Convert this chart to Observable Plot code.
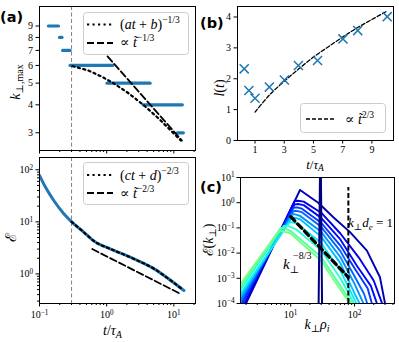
<!DOCTYPE html>
<html><head><meta charset="utf-8">
<script src="https://cdn.jsdelivr.net/npm/d3@7"></script>
<script src="https://cdn.jsdelivr.net/npm/@observablehq/plot@0.6"></script>
<style>
body{margin:0;background:#fff;}
#wrap{position:relative;width:399px;height:342px;overflow:hidden;background:#fff;}
</style></head><body><div id="wrap"></div>
<script>
// ---------- Panel (a) top: k_perp,max plateaus ----------
const kLevels = [9, 8, 7, 6, 5, 4, 3];
const kStart  = [0.138, 0.202, 0.225, 0.29, 1.03, 3.57, 11.5];
const kEnd    = [0.195, 0.22, 0.29, 1.25, 4.5, 13.6, 14.1];
const fitA_t  = [0.31, 0.53, 0.86, 1.27, 2.13, 3.57, 5.97, 9.0, 12.7];
const fitA_k  = [5.95, 5.7, 5.33, 4.99, 4.50, 3.98, 3.47, 3.07, 2.77];
const powA_t  = [1.03, 13.2];
const powA_k  = [6.58, 2.77];
const tMark = 0.3;
const kTicks = [3, 4, 5, 6, 7, 8, 9];
// ---------- Panel (a) bottom: energy ----------
const eT = [0.1, 0.123, 0.163, 0.23, 0.307, 0.458, 0.685, 1.15, 2.55, 5.1, 14.1];
const eE = [78, 46, 25.7, 14.3, 9.8, 6.3, 4.05, 3.0, 1.94, 1.25, 0.48];
const fitE_t = [0.3, 0.458, 0.685, 1.15, 2.55, 5.1, 13.5];
const fitE_E = [10.0, 6.3, 4.05, 3.0, 1.94, 1.25, 0.5];
const powE_t = [0.61, 12.7];
const powE_E = [3.0, 0.41];
// ---------- Panel (b): l(t) ----------
const lT = [0.26, 0.58, 1.0, 1.98, 3.01, 3.97, 5.28, 7.02, 8.03, 10.05];
const lV = [2.32, 1.62, 1.37, 1.73, 1.96, 2.43, 2.59, 3.29, 3.56, 4.01];
const fitL_t = [1, 2, 3, 4, 5, 6, 7, 8, 9, 10];
const fitL_v = [0.92, 1.48, 1.92, 2.32, 2.7, 3.03, 3.35, 3.65, 3.92, 4.18];
// ---------- Panel (c): spectra ----------
const spikeK = [27.4, 29.3, 31.0];
const spikeE = [1e-4, 1e3, 1e-4];
const specK = [
  [2.0, 14, 27, 47, 85, 156, 250, 300],
  [1.9, 11.5, 13, 16, 30, 60, 120, 200, 270],
  [1.75, 11.5, 13, 16, 30, 60, 110, 180, 224],
  [1.7, 11, 12.5, 15, 30, 60, 100, 160, 187],
  [1.64, 11, 12, 15, 30, 60, 100, 140, 158],
  [1.64, 10.5, 11.5, 14, 30, 60, 100, 138],
  [1.64, 10.3, 11, 14, 30, 60, 100, 120],
  [1.64, 9.5, 10.5, 13, 30, 60, 107],
  [1.64, 7.8, 9, 12, 30, 60, 98],
  [1.64, 7, 7.8, 10, 30, 60, 91],
  [1.64, 6.5, 7.5, 10, 30, 60, 85]
];
const specE = [
  [1e-4, 3.2, 1.0, 0.26, 0.068, 0.0126, 1.1e-3, 1e-4],
  [1e-4, 1.15, 1.2, 1.1, 0.4, 0.06, 6e-3, 8e-4, 1e-4],
  [1e-4, 0.85, 0.89, 0.8, 0.25, 0.035, 3e-3, 5e-4, 1e-4],
  [1e-4, 0.62, 0.65, 0.58, 0.16, 0.02, 2.5e-3, 4e-4, 1e-4],
  [1.2e-4, 0.46, 0.48, 0.42, 0.11, 0.012, 1.2e-3, 2.5e-4, 1e-4],
  [1.5e-4, 0.34, 0.35, 0.3, 0.07, 7e-3, 6e-4, 1e-4],
  [2e-4, 0.25, 0.26, 0.22, 0.045, 4e-3, 2.5e-4, 1e-4],
  [2.5e-4, 0.165, 0.17, 0.14, 0.025, 2e-3, 1e-4],
  [3.5e-4, 0.12, 0.12, 0.09, 0.013, 1e-3, 1e-4],
  [4.5e-4, 0.10, 0.10, 0.075, 7e-3, 5e-4, 1e-4],
  [6e-4, 0.074, 0.074, 0.06, 5e-3, 3.5e-4, 1e-4]
];
const slopeK = [10, 80];
const slopeE = [0.28, 1.1e-3];
const kde = 80;
const kdeTop = 4;

// ---------- helpers ----------
const serif = "'Liberation Serif','DejaVu Serif',serif";
const wrap = document.getElementById("wrap");
const NS = "http://www.w3.org/2000/svg";
function jet(v){
  const f = (pts) => { for (let i=1;i<pts.length;i++){ if (v<=pts[i][0]){ const [x0,y0]=pts[i-1],[x1,y1]=pts[i]; return y0+(y1-y0)*(v-x0)/(x1-x0);} } return pts[pts.length-1][1]; };
  const r=f([[0,0],[0.35,0],[0.66,1],[0.89,1],[1,0.5]]);
  const g=f([[0,0],[0.125,0],[0.375,1],[0.64,1],[0.91,0],[1,0]]);
  const b=f([[0,0.5],[0.11,1],[0.34,1],[0.65,0],[1,0]]);
  return d3.rgb(r*255,g*255,b*255).formatHex();
}
function supers(svg){
  svg.querySelectorAll("text").forEach(t=>{
    const s=t.textContent; if(!s.includes("^")) return;
    const [b,e]=s.split("^"); t.textContent=b;
    const ts=document.createElementNS(NS,"tspan");
    ts.setAttribute("dy","-0.45em"); ts.setAttribute("font-size","0.72em");
    ts.textContent=e.replace("-","\u2212");
    t.appendChild(ts);
  });
}
function place(svg,left,top){
  svg.style.position="absolute"; svg.style.left=left+"px"; svg.style.top=top+"px";
  wrap.appendChild(svg); supers(svg);
}
const pow10 = d => "10^" + Math.round(Math.log10(d));
const baseStyle = {background:"transparent", overflow:"visible", fontFamily:serif, fontSize:"10px", color:"black"};
const xMajA = [0.1, 1, 10];
const xMinA = [0.2,0.3,0.4,0.5,0.6,0.7,0.8,0.9,2,3,4,5,6,7,8,9,20];
const yMajE = [1, 10, 100];
const yMinE = [0.3,0.4,0.5,0.6,0.7,0.8,0.9,2,3,4,5,6,7,8,9,20,30,40,50,60,70,80,90];
const xTicksB = [1,3,5,7,9];
const yTicksB = [0,1,2,3,4];
const xMajC = [10, 100];
const xMinC = [2,3,4,5,6,7,8,9,20,30,40,50,60,70,80,90,200,300,400];
const yMajC = [1e-4,1e-3,1e-2,1e-1,1,10];
const blue = "#1f77b4";

// ---------- Panel (a) top ----------
const segs = kLevels.map((k,i)=>({k, t0:kStart[i], t1:kEnd[i]}));
const fitA = fitA_t.map((t,i)=>({t, k:fitA_k[i]}));
const powA = powA_t.map((t,i)=>({t, k:powA_k[i]}));
place(Plot.plot({
  width:200, height:160, marginLeft:39, marginRight:5, marginTop:6, marginBottom:10,
  style:baseStyle,
  x:{type:"log", domain:[0.1,21]},
  y:{type:"log", domain:[2.5,11]},
  marks:[
    Plot.ruleX([tMark], {stroke:"#808080", strokeWidth:1, strokeDasharray:"4,2.5"}),
    Plot.ruleY(segs, {y:"k", x1:"t0", x2:"t1", stroke:blue, strokeWidth:3.2, strokeLinecap:"round"}),
    Plot.line(fitA, {x:"t", y:"k", stroke:"black", strokeWidth:2.2, strokeDasharray:"2.2,3.3", clip:true}),
    Plot.line(powA, {x:"t", y:"k", stroke:"black", strokeWidth:1.8, strokeDasharray:"7,3", clip:true}),
    Plot.axisY({ticks:kTicks, tickSize:3.5, tickPadding:3, tickFormat:d=>String(d), label:null}),
    Plot.axisX({ticks:xMajA, tickSize:3.5, tickFormat:()=>"", label:null}),
    Plot.axisX({ticks:xMinA, tickSize:2, tickFormat:()=>"", label:null}),
    Plot.frame({stroke:"black", strokeWidth:1})
  ]
}), 0, 0);

// ---------- Panel (a) bottom ----------
const eCurve = eT.map((t,i)=>({t, E:eE[i]}));
const fitE = fitE_t.map((t,i)=>({t, E:fitE_E[i]}));
const powE = powE_t.map((t,i)=>({t, E:powE_E[i]}));
place(Plot.plot({
  width:200, height:192, marginLeft:39, marginRight:5, marginTop:7, marginBottom:39,
  style:baseStyle,
  x:{type:"log", domain:[0.1,21]},
  y:{type:"log", domain:[0.27,172]},
  marks:[
    Plot.ruleX([tMark], {stroke:"#808080", strokeWidth:1, strokeDasharray:"4,2.5"}),
    Plot.line(eCurve, {x:"t", y:"E", stroke:blue, strokeWidth:3, curve:"catmull-rom", clip:true}),
    Plot.line(fitE, {x:"t", y:"E", stroke:"black", strokeWidth:2.2, strokeDasharray:"2.2,3.3", curve:"catmull-rom", clip:true}),
    Plot.line(powE, {x:"t", y:"E", stroke:"black", strokeWidth:1.8, strokeDasharray:"7,3", clip:true}),
    Plot.axisY({ticks:yMajE, tickSize:3.5, tickPadding:3, tickFormat:pow10, label:null}),
    Plot.axisY({ticks:yMinE, tickSize:2, tickFormat:()=>"", label:null}),
    Plot.axisX({ticks:xMajA, tickSize:3.5, tickPadding:4, tickFormat:pow10, label:null}),
    Plot.axisX({ticks:xMinA, tickSize:2, tickFormat:()=>"", label:null}),
    Plot.frame({stroke:"black", strokeWidth:1})
  ]
}), 0, 150);

// ---------- Panel (b) ----------
const lPts = lT.map((t,i)=>({t, v:lV[i]}));
const fitL = fitL_t.map((t,i)=>({t, v:fitL_v[i]}));
place(Plot.plot({
  width:199, height:160, marginLeft:37, marginRight:6, marginTop:6, marginBottom:20,
  style:baseStyle,
  x:{domain:[-0.2,10.48]},
  y:{domain:[0,4.34]},
  marks:[
    Plot.line(fitL, {x:"t", y:"v", stroke:"black", strokeWidth:1.3, strokeDasharray:"4,2", curve:"catmull-rom"}),
    Plot.dot(lPts, {x:"t", y:"v", symbol:"times", r:4.2, stroke:blue, strokeWidth:1.5}),
    Plot.axisY({ticks:yTicksB, tickSize:3.5, tickPadding:3, tickFormat:d=>String(d), label:null}),
    Plot.axisX({ticks:xTicksB, tickSize:3.5, tickPadding:2, tickFormat:d=>String(d), label:null}),
    Plot.frame({stroke:"black", strokeWidth:1})
  ]
}), 200, 0);

// ---------- Panel (c) ----------
const specMarks = specK.map((ks,i)=>{
  const rows = ks.map((k,j)=>({k, E:specE[i][j]}));
  return Plot.line(rows, {x:"k", y:"E", stroke:jet(0.045*(i+1)), strokeWidth:1.9, clip:true});
});
const spike = spikeK.map((k,i)=>({k, E:spikeE[i]}));
const slope = slopeK.map((k,i)=>({k, E:slopeE[i]}));
place(Plot.plot({
  width:199, height:182, marginLeft:40, marginRight:5, marginTop:17, marginBottom:39,
  style:baseStyle,
  x:{type:"log", domain:[1.64,422]},
  y:{type:"log", domain:[1e-4,10]},
  marks:[
    ...specMarks,
    Plot.line(spike, {x:"k", y:"E", stroke:jet(0), strokeWidth:2, clip:true}),
    Plot.ruleX([kde], {y1:1e-4, y2:kdeTop, stroke:"black", strokeWidth:2, strokeDasharray:"5,2.5"}),
    Plot.line(slope, {x:"k", y:"E", stroke:"black", strokeWidth:3.3, strokeDasharray:"6,4"}),
    Plot.axisY({ticks:yMajC, tickSize:3.5, tickPadding:2.5, tickFormat:pow10, label:null}),
    Plot.axisX({ticks:xMajC, tickSize:3.5, tickPadding:4, tickFormat:pow10, label:null}),
    Plot.axisX({ticks:xMinC, tickSize:2, tickFormat:()=>"", label:null}),
    Plot.frame({stroke:"black", strokeWidth:1})
  ]
}), 200, 160);

// ---------- overlay: panel letters, axis labels, legends ----------
const ov = document.createElementNS(NS,"svg");
ov.setAttribute("width",399); ov.setAttribute("height",342);
ov.style.position="absolute"; ov.style.left="0px"; ov.style.top="0px";
ov.setAttribute("font-family", serif);
ov.innerHTML = `
<g font-family="'DejaVu Sans',sans-serif" font-weight="bold" font-size="14.5">
  <text x="0" y="22">(a)</text>
  <text x="200" y="28">(b)</text>
  <text x="200" y="192">(c)</text>
</g>
<text transform="translate(19.5,82) rotate(-90)" text-anchor="middle" font-size="14"><tspan font-style="italic">k</tspan><tspan font-size="10" dy="3">⊥,max</tspan></text>
<text transform="translate(15.5,237) rotate(-90)" text-anchor="middle" font-size="15" font-family="'DejaVu Serif',serif">ℰ</text>
<text x="112.5" y="335" text-anchor="middle" font-size="14"><tspan font-style="italic">t</tspan>/<tspan font-style="italic">τ</tspan><tspan font-style="italic" font-size="10" dy="3">A</tspan></text>
<text transform="translate(224,88) rotate(-90)" text-anchor="middle" font-size="14"><tspan font-style="italic">l</tspan>(<tspan font-style="italic">t</tspan>)</text>
<text x="315" y="168.5" text-anchor="middle" font-size="13"><tspan font-style="italic">t</tspan>/<tspan font-style="italic">τ</tspan><tspan font-style="italic" font-size="9.5" dy="2.5">A</tspan></text>
<text transform="translate(213,240) rotate(-90)" text-anchor="middle" font-size="14"><tspan font-family="'DejaVu Serif',serif">ℰ</tspan>(<tspan font-style="italic">k</tspan><tspan font-size="10" dy="3">⊥</tspan><tspan dy="-3">)</tspan></text>
<text x="317" y="329" text-anchor="middle" font-size="14"><tspan font-style="italic">k</tspan><tspan font-size="10" dy="3">⊥</tspan><tspan font-style="italic" dy="-3">ρ</tspan><tspan font-style="italic" font-size="10" dy="3">i</tspan></text>
<text x="348" y="227" font-size="13"><tspan font-style="italic">k</tspan><tspan font-size="9" dy="3">⊥</tspan><tspan font-style="italic" dy="-3">d</tspan><tspan font-style="italic" font-size="9" dy="3">e</tspan><tspan dy="-3"> = 1</tspan></text>
<text x="283" y="269" font-size="15"><tspan font-style="italic">k</tspan><tspan font-size="10" dy="4">⊥</tspan><tspan font-size="10" dx="-6" dy="-14">−8/3</tspan></text>

<rect x="83.5" y="12.5" width="105" height="42" rx="3" fill="white" fill-opacity="0.8" stroke="#cccccc"/>
<line x1="87" x2="113" y1="24.5" y2="24.5" stroke="black" stroke-width="2.2" stroke-dasharray="2.2,3.3"/>
<line x1="87" x2="113" y1="43" y2="43" stroke="black" stroke-width="1.8" stroke-dasharray="7,3"/>
<text x="120" y="29" font-size="14">(<tspan font-style="italic">at</tspan> + <tspan font-style="italic">b</tspan>)<tspan font-size="9.5" dy="-6">−1/3</tspan></text>
<text x="120" y="47" font-size="14">∝ <tspan font-style="italic">t̃</tspan><tspan font-size="9.5" dy="-6">−1/3</tspan></text>

<rect x="83.5" y="162.5" width="105" height="42" rx="3" fill="white" fill-opacity="0.8" stroke="#cccccc"/>
<line x1="87" x2="113" y1="175" y2="175" stroke="black" stroke-width="2.2" stroke-dasharray="2.2,3.3"/>
<line x1="87" x2="113" y1="193" y2="193" stroke="black" stroke-width="1.8" stroke-dasharray="7,3"/>
<text x="120" y="179.5" font-size="14">(<tspan font-style="italic">ct</tspan> + <tspan font-style="italic">d</tspan>)<tspan font-size="9.5" dy="-6">−2/3</tspan></text>
<text x="120" y="197.5" font-size="14">∝ <tspan font-style="italic">t̃</tspan><tspan font-size="9.5" dy="-6">−2/3</tspan></text>

<rect x="300.5" y="103.5" width="85" height="29" rx="3" fill="white" fill-opacity="0.8" stroke="#cccccc"/>
<line x1="306" x2="335" y1="119" y2="119" stroke="black" stroke-width="1.3" stroke-dasharray="4,2"/>
<text x="345" y="123.5" font-size="14">∝ <tspan font-style="italic">t̃</tspan><tspan font-size="9.5" dy="-6">2/3</tspan></text>
`;
wrap.appendChild(ov);
</script></body></html>
